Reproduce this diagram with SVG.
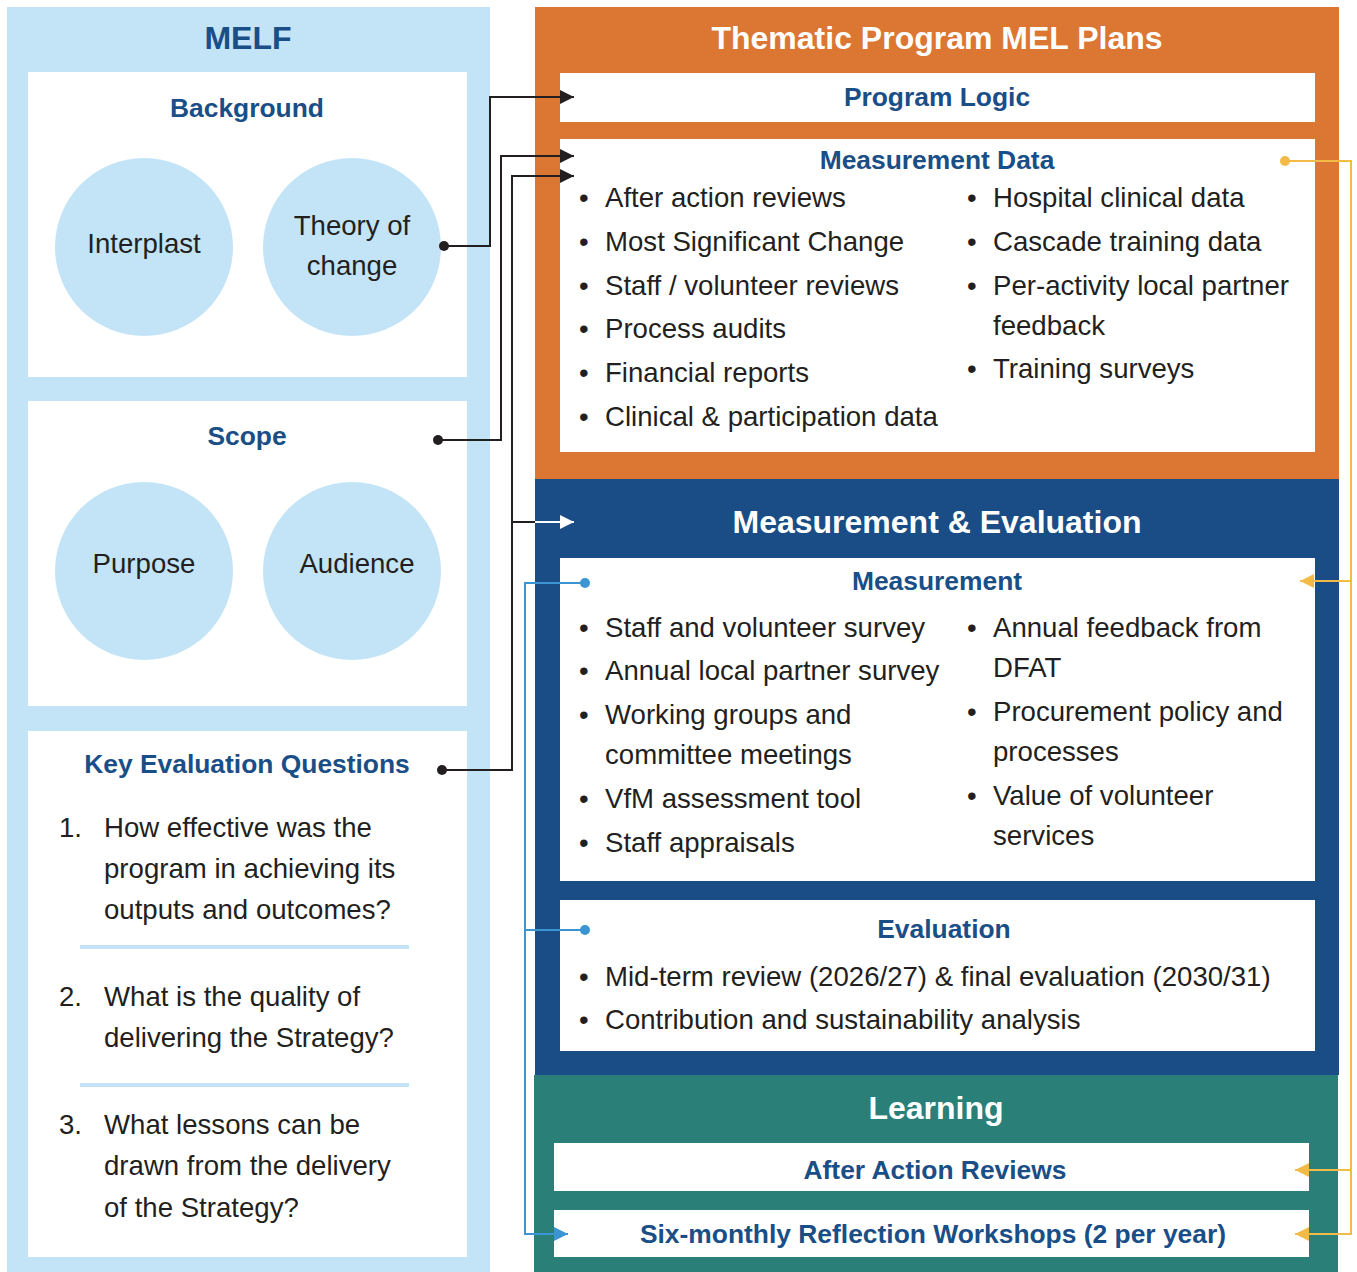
<svg xmlns="http://www.w3.org/2000/svg" width="1357" height="1272" viewBox="0 0 1357 1272">
<style>
.t{font-family:"Liberation Sans",Arial,sans-serif;font-size:27.6px;fill:#231f20}
.h{font-family:"Liberation Sans",Arial,sans-serif;font-size:26.4px;font-weight:bold;fill:#1a4e86;text-anchor:middle}
.H{font-family:"Liberation Sans",Arial,sans-serif;font-size:32px;font-weight:bold;text-anchor:middle}
.c{text-anchor:middle}
.box{fill:#ffffff}
.circ{fill:#c2e4f6}
.blk{fill:none;stroke:#231f20;stroke-width:2}
.yel{fill:none;stroke:#f2bb48;stroke-width:2}
.blu{fill:none;stroke:#3b95d3;stroke-width:2}
</style>
<defs>
<marker id="aB" markerUnits="userSpaceOnUse" markerWidth="14" markerHeight="14" refX="14" refY="7" orient="auto"><path d="M0,0 L14,7 L0,14 z" fill="#231f20"/></marker>
<marker id="aW" markerUnits="userSpaceOnUse" markerWidth="14" markerHeight="14" refX="14" refY="7" orient="auto"><path d="M0,0 L14,7 L0,14 z" fill="#ffffff"/></marker>
<marker id="aY" markerUnits="userSpaceOnUse" markerWidth="14" markerHeight="14" refX="14" refY="7" orient="auto"><path d="M0,0 L14,7 L0,14 z" fill="#f2bb48"/></marker>
<marker id="aL" markerUnits="userSpaceOnUse" markerWidth="14" markerHeight="14" refX="14" refY="7" orient="auto"><path d="M0,0 L14,7 L0,14 z" fill="#3b95d3"/></marker>
</defs>

<g id="melf">
<rect x="7" y="7" width="483" height="1265" fill="#c2e4f6"/>
<text class="H" x="248" y="49" fill="#1a4e86">MELF</text>
</g>

<g id="background">
<rect class="box" x="28" y="72" width="439" height="305"/>
<text class="h" x="247" y="117">Background</text>
</g>
<g id="interplast">
<circle class="circ" cx="144" cy="247" r="89"/>
<text class="t c" x="144" y="253">Interplast</text>
</g>
<g id="theory">
<circle class="circ" cx="352" cy="247" r="89"/>
<text class="t c" x="352" y="235">Theory of</text>
<text class="t c" x="352" y="275">change</text>
</g>

<g id="scope">
<rect class="box" x="28" y="401" width="439" height="305"/>
<text class="h" x="247" y="445">Scope</text>
</g>
<g id="purpose">
<circle class="circ" cx="144" cy="571" r="89"/>
<text class="t c" x="144" y="573">Purpose</text>
</g>
<g id="audience">
<circle class="circ" cx="352" cy="571" r="89"/>
<text class="t c" x="357" y="573">Audience</text>
</g>

<g id="keq">
<rect class="box" x="28" y="731" width="439" height="526"/>
<text class="h" x="247" y="773">Key Evaluation Questions</text>
<text class="t" x="59" y="837">1.</text>
<text class="t" x="104" y="837">How effective was the</text>
<text class="t" x="104" y="878">program in achieving its</text>
<text class="t" x="104" y="919">outputs and outcomes?</text>
<line x1="80" y1="947" x2="409" y2="947" stroke="#c2e4f6" stroke-width="4"/>
<text class="t" x="59" y="1006">2.</text>
<text class="t" x="104" y="1006">What is the quality of</text>
<text class="t" x="104" y="1047">delivering the Strategy?</text>
<line x1="80" y1="1085" x2="409" y2="1085" stroke="#c2e4f6" stroke-width="4"/>
<text class="t" x="59" y="1134">3.</text>
<text class="t" x="104" y="1134">What lessons can be</text>
<text class="t" x="104" y="1175">drawn from the delivery</text>
<text class="t" x="104" y="1217">of the Strategy?</text>
</g>

<g id="thematic">
<rect x="535" y="7" width="804" height="472" fill="#dc7633"/>
<text class="H" x="937" y="49" fill="#ffffff">Thematic Program MEL Plans</text>
</g>
<g id="program-logic">
<rect class="box" x="560" y="73" width="755" height="49"/>
<text class="h" x="937" y="106">Program Logic</text>
</g>
<g id="measurement-data">
<rect class="box" x="560" y="139" width="755" height="313"/>
<text class="h" x="937" y="169">Measurement Data</text>
<text class="t" x="579" y="207">•</text><text class="t" x="605" y="207">After action reviews</text>
<text class="t" x="579" y="251">•</text><text class="t" x="605" y="251">Most Significant Change</text>
<text class="t" x="579" y="295">•</text><text class="t" x="605" y="295">Staff / volunteer reviews</text>
<text class="t" x="579" y="338">•</text><text class="t" x="605" y="338">Process audits</text>
<text class="t" x="579" y="382">•</text><text class="t" x="605" y="382">Financial reports</text>
<text class="t" x="579" y="426">•</text><text class="t" x="605" y="426">Clinical &amp; participation data</text>
<text class="t" x="967" y="207">•</text><text class="t" x="993" y="207">Hospital clinical data</text>
<text class="t" x="967" y="251">•</text><text class="t" x="993" y="251">Cascade training data</text>
<text class="t" x="967" y="295">•</text><text class="t" x="993" y="295">Per-activity local partner</text>
<text class="t" x="993" y="335">feedback</text>
<text class="t" x="967" y="378">•</text><text class="t" x="993" y="378">Training surveys</text>
</g>

<g id="me">
<rect x="535" y="479" width="804" height="596" fill="#1a4d85"/>
<text class="H" x="937" y="533" fill="#ffffff">Measurement &amp; Evaluation</text>
</g>
<g id="measurement">
<rect class="box" x="560" y="558" width="755" height="323"/>
<text class="h" x="937" y="590">Measurement</text>
<text class="t" x="579" y="637">•</text><text class="t" x="605" y="637">Staff and volunteer survey</text>
<text class="t" x="579" y="680">•</text><text class="t" x="605" y="680">Annual local partner survey</text>
<text class="t" x="579" y="724">•</text><text class="t" x="605" y="724">Working groups and</text>
<text class="t" x="605" y="764">committee meetings</text>
<text class="t" x="579" y="808">•</text><text class="t" x="605" y="808">VfM assessment tool</text>
<text class="t" x="579" y="852">•</text><text class="t" x="605" y="852">Staff appraisals</text>
<text class="t" x="967" y="637">•</text><text class="t" x="993" y="637">Annual feedback from</text>
<text class="t" x="993" y="677">DFAT</text>
<text class="t" x="967" y="721">•</text><text class="t" x="993" y="721">Procurement policy and</text>
<text class="t" x="993" y="761">processes</text>
<text class="t" x="967" y="805">•</text><text class="t" x="993" y="805">Value of volunteer</text>
<text class="t" x="993" y="845">services</text>
</g>
<g id="evaluation">
<rect class="box" x="560" y="900" width="755" height="151"/>
<text class="h" x="944" y="938">Evaluation</text>
<text class="t" x="579" y="986">•</text><text class="t" x="605" y="986">Mid-term review (2026/27) &amp; final evaluation (2030/31)</text>
<text class="t" x="579" y="1029">•</text><text class="t" x="605" y="1029">Contribution and sustainability analysis</text>
</g>

<g id="learning">
<rect x="534" y="1075" width="804" height="197" fill="#2a8079"/>
<text class="H" x="936" y="1119" fill="#ffffff">Learning</text>
</g>
<g id="aar">
<rect class="box" x="554" y="1143" width="755" height="48"/>
<text class="h" x="935" y="1179">After Action Reviews</text>
</g>
<g id="workshops">
<rect class="box" x="554" y="1210" width="755" height="47"/>
<text class="h" x="933" y="1243">Six-monthly Reflection Workshops (2 per year)</text>
</g>

<g id="connectors">
<path class="blk" d="M444,246 H490 V97 H574" marker-end="url(#aB)"/>
<path class="blk" d="M438,440 H501 V156 H574" marker-end="url(#aB)"/>
<path class="blk" d="M442,770 H512 V176 H574" marker-end="url(#aB)"/>
<path class="blk" d="M512,522 H535"/>
<path fill="none" stroke="#ffffff" stroke-width="2" d="M535,522 H574" marker-end="url(#aW)"/>
<circle cx="444" cy="246" r="5" fill="#231f20"/>
<circle cx="438" cy="440" r="5" fill="#231f20"/>
<circle cx="442" cy="770" r="5" fill="#231f20"/>

<path class="yel" d="M1285,161 H1351 V1234 H1295" marker-end="url(#aY)"/>
<path class="yel" d="M1351,581 H1300" marker-end="url(#aY)"/>
<path class="yel" d="M1351,1170 H1295" marker-end="url(#aY)"/>
<circle cx="1285" cy="161" r="5" fill="#f2bb48"/>

<path class="blu" d="M585,583 H525 V1234 H568" marker-end="url(#aL)"/>
<path class="blu" d="M585,930 H525"/>
<circle cx="585" cy="583" r="5" fill="#3b95d3"/>
<circle cx="585" cy="930" r="5" fill="#3b95d3"/>
</g>
</svg>
